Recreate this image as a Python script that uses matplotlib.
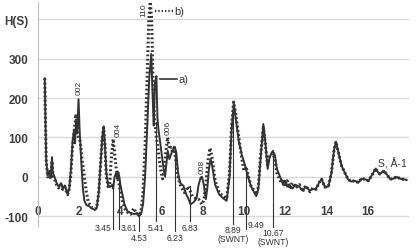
import matplotlib
matplotlib.use("Agg")
import matplotlib.pyplot as plt

plt.rcParams['font.family'] = ['Liberation Sans', 'DejaVu Sans']

# curve a) (solid)
xa = [0.33, 0.36, 0.40, 0.47, 0.55, 0.62, 0.68, 0.72, 0.80, 0.90, 1.00, 1.12, 1.20, 1.30, 1.38, 1.44,
      1.52, 1.60, 1.68, 1.75, 1.80, 1.85, 1.90, 1.97, 2.02, 2.08, 2.12, 2.18, 2.25, 2.35, 2.50, 2.60,
      2.75, 2.85, 2.95, 3.05, 3.12, 3.19, 3.25, 3.32, 3.40, 3.50, 3.60, 3.65, 3.72, 3.80, 3.85, 3.90,
      3.95, 4.00, 4.10, 4.20, 4.35, 4.50, 4.70, 4.80, 4.90, 5.00, 5.10, 5.20, 5.30, 5.40, 5.50, 5.57,
      5.62, 5.68, 5.75, 5.80, 5.85, 5.90, 6.00, 6.10, 6.17, 6.25, 6.30, 6.38, 6.45, 6.55, 6.65, 6.72,
      6.80, 6.90, 7.06, 7.20, 7.30, 7.40, 7.55, 7.70, 7.80, 7.90, 7.96, 8.05, 8.15, 8.22, 8.30, 8.38,
      8.45, 8.60, 8.80, 9.00, 9.16, 9.30, 9.40, 9.51, 9.60, 9.75, 9.90, 10.05, 10.20, 10.35, 10.50,
      10.60, 10.70, 10.80, 10.94, 11.02, 11.15, 11.25, 11.40, 11.50, 11.60, 11.80, 11.90, 12.00,
      12.10, 12.20, 12.35, 12.50, 12.70, 12.85, 13.00, 13.20, 13.35, 13.50, 13.65, 13.77, 13.93,
      14.10, 14.25, 14.38, 14.47, 14.55, 14.74, 14.90, 15.05, 15.20, 15.39, 15.55, 15.70, 15.87,
      16.05, 16.20, 16.40, 16.50, 16.60, 16.80, 16.95, 17.10, 17.25, 17.40, 17.60, 17.90]
ha_ = [250, 150, 40, 5, 15, 0, 50, 10, 0, -15, -25, -16, -30, -22, -35, -44,
       -30, 20, 90, 120, 85, 140, 110, 197, 120, 60, 20, -30, -60, -72, -75, -80,
       -84, -80, -40, 40, 100, 128, 80, 10, -20, -26, -20, -30, 0, 10, -5, 12,
       0, -20, -45, -70, -88, -92, -95, -92, -100, -95, -70, 0, 120, 250, 312, 200,
       130, 240, 256, 150, 120, 100, 60, 20, 0, 40, 66, 45, 55, 70, 75, 60,
       10, -15, -23, -45, -55, -70, -65, -55, -20, -2, 0, -20, -57, -30, 20, 45,
       30, -20, -45, -55, -61, 0, 120, 185, 150, 90, 55, 30, 0, -25, -40,
       -49, -30, 40, 134, 100, 20, 50, 66, 55, 20, -6, -20, -10,
       -25, -19, -30, -20, -26, -35, -25, -35, -31, -30, -15, -6, -26,
       -25, 10, 70, 89, 70, 28, 10, -6, -12, -10, -15, -5, -6,
       -10, 3, 21, 12, 7, 15, 5, -6, -5, 0, -5, -8]

# curve b) (dotted)
xb = [0.33, 0.36, 0.40, 0.47, 0.55, 0.62, 0.68, 0.72, 0.80, 0.90, 1.00, 1.12, 1.20, 1.30, 1.38, 1.44,
      1.52, 1.60, 1.68, 1.75, 1.84, 1.90, 1.97, 2.05, 2.15, 2.25, 2.35, 2.45, 2.60, 2.75, 2.85, 2.95,
      3.05, 3.12, 3.19, 3.25, 3.32, 3.40, 3.48, 3.55, 3.65, 3.72, 3.80, 3.90, 4.00, 4.10, 4.20, 4.35,
      4.50, 4.65, 4.75, 4.90, 5.00, 5.10, 5.20, 5.30, 5.38, 5.45, 5.52, 5.58, 5.65, 5.75, 5.85, 5.95,
      6.05, 6.12, 6.20, 6.30, 6.38, 6.45, 6.55, 6.62, 6.70, 6.80, 6.90, 7.00, 7.10, 7.20, 7.28, 7.38,
      7.50, 7.65, 7.80, 7.95, 8.05, 8.15, 8.25, 8.35, 8.45, 8.60, 8.80, 9.00, 9.16, 9.30, 9.40, 9.50,
      9.60, 9.75, 9.90, 10.00, 10.10, 10.20, 10.35, 10.50, 10.60, 10.70, 10.80, 10.94, 11.02, 11.15,
      11.25, 11.40, 11.50, 11.60, 11.80, 11.90, 12.00, 12.10, 12.20, 12.35, 12.50, 12.70, 12.85,
      13.00, 13.20, 13.35, 13.50, 13.65, 13.77, 13.93, 14.10, 14.25, 14.38, 14.47, 14.55, 14.74,
      14.90, 15.05, 15.20, 15.39, 15.55, 15.70, 15.87, 16.05, 16.20, 16.40, 16.50, 16.60, 16.80,
      16.95, 17.10, 17.25, 17.40, 17.60, 17.90]
hb = [250, 150, 40, 0, 10, -5, 40, 5, -5, -20, -28, -20, -32, -25, -38, -45,
      -30, 10, 80, 110, 159, 130, 100, 90, 40, 0, -40, -65, -78, -82, -78, -40,
      40, 100, 125, 80, 0, -25, -20, 40, 96, 60, 20, -10, -35, -60, -80, -90,
      -95, -80, -90, -98, -90, -40, 80, 250, 400, 444, 400, 250, 150, 100, 60, 20,
      -5, 10, 60, 100, 70, 75, 60, 75, 40, 0, -20, -30, -40, -35, -24, -35,
      -50, -55, -57, -70, -60, -20, 40, 73, 50, -10, -40, -50, -55, 10, 130, 190,
      160, 100, 45, 15, 25, 5, -25, -35, -45, -25, 50, 125, 90, 30,
      55, 60, 45, 10, -15, -5, -25, -10, -30, -15, -28, -20, -38,
      -22, -38, -28, -32, -15, -6, -26, -25, 10, 70, 89, 70, 28,
      10, -6, -12, -10, -15, -5, -6, -10, 3, 21, 12, 7, 15,
      5, -6, -5, 0, -5, -8]

yticks = [-100, 0, 100, 200, 300, 400]
ytick_labels = ['-100', '0', '100', '200', '300', 'H(S)']
xtick_vals = [0, 2, 4, 6, 8, 10, 12, 14, 16]

peak_names = ['002', '004', '110', '006', '008']
peak_x = [1.99, 3.87, 5.16, 6.30, 7.97]
peak_h = [228, 121, 427, 126, 28]

# marked positions: label, line x, line top, line bottom, label y, alignment
mark_labels = ['3.45', '3.61', '4.53', '5.41', '6.23', '6.83', '8.89\n(SWNT)', '9.49', '10.67\n(SWNT)']
mark_x = [3.64, 3.93, 4.90, 5.73, 6.65, 7.38, 9.47, 10.10, 11.41]
mark_top = [-22, 5, -98, 139, 70, -23, 185, 25, 66]
mark_bot = [-133, -133, -138, -112, -138, -112, -120, -133, -128]
mark_ty = [-128, -128, -153, -128, -153, -128, -145, -122, -153]
mark_ha = ['right', 'left', 'center', 'center', 'center', 'center', 'center', 'left', 'center']

fig = plt.figure(figsize=(4.17, 2.51), dpi=100)
ax = fig.add_axes([0.0911, 0.0956, 0.889, 0.894])
ax.set_xlim(0, 18)
ax.set_ylim(-125, 445)

for y in yticks:
    ax.axhline(y, color='#d9d9d9', lw=1, zorder=0)

for v in xtick_vals:
    ax.text(v, -88, str(v), ha='center', va='center', fontsize=8.5, fontweight='bold',
            color='#404040', zorder=1)

ax.plot(xb, hb, color='#333333', lw=2.2, linestyle=(0, (0.6, 0.8)), zorder=3)
ax.plot(xa, ha_, color='#333333', lw=1.4, zorder=4)

for name, px, ph in zip(peak_names, peak_x, peak_h):
    ax.text(px, ph, name, rotation=90, ha='center', va='center', fontsize=6, color='#333333')

for lab, mx, mt, mb, ty, al in zip(mark_labels, mark_x, mark_top, mark_bot, mark_ty, mark_ha):
    ax.plot([mx, mx], [mb, mt], color='#333333', lw=0.8, clip_on=False, zorder=5)
    tx = mx + (-0.06 if al == 'right' else 0.06 if al == 'left' else 0)
    ax.text(tx, ty, lab, ha=al, va='center', fontsize=6.2, color='#333333',
            linespacing=1.0, clip_on=False)

# legend drawn next to the peaks
ax.plot([5.68, 6.55], [421, 421], color='#333333', lw=1.6, linestyle=(0, (0.6, 0.9)))
ax.text(6.62, 421, 'b)', ha='left', va='center', fontsize=8, color='#333333')
ax.plot([5.92, 6.73], [248, 248], color='#333333', lw=1.2)
ax.text(6.8, 248, 'a)', ha='left', va='center', fontsize=8, color='#333333')

ax.text(17.2, 36, 'S, Å-1', ha='center', va='center', fontsize=7.5, color='#333333')

ax.set_yticks(yticks)
ax.set_yticklabels(ytick_labels, fontsize=8.5, fontweight='bold', color='#404040')
ax.tick_params(axis='y', length=0, pad=7)
ax.set_xticks([])
for s in ['top', 'right', 'bottom']:
    ax.spines[s].set_visible(False)
ax.spines['left'].set_color('#bfbfbf')

fig.savefig('out.png', dpi=100)
